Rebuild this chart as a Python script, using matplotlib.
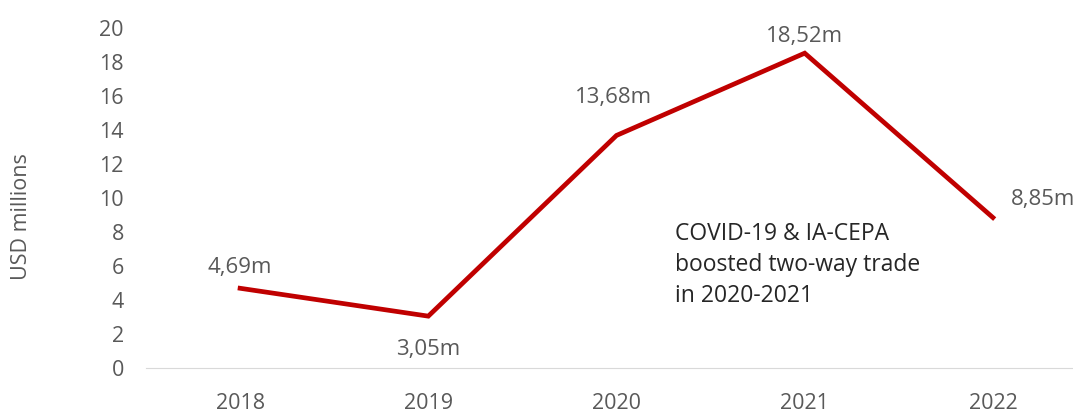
import matplotlib.pyplot as plt

# -------------------- DATA --------------------
years = ["2018", "2019", "2020", "2021", "2022"]
trade = [4.69, 3.05, 13.68, 18.52, 8.85]
labels = ["4,69m", "3,05m", "13,68m", "18,52m", "8,85m"]
yticks = [0, 2, 4, 6, 8, 10, 12, 14, 16, 18, 20]

plt.rcParams['font.family'] = ['Open Sans', 'DejaVu Sans']
grey = "#595959"

# -------------------- FIGURE --------------------
fig = plt.figure(figsize=(10.73, 4.12), dpi=100)
ax = fig.add_axes([146 / 1073, 44 / 412, 941 / 1073, 340 / 412])

x = range(len(years))
ax.plot(x, trade, color="#C00000", linewidth=3.4, solid_joinstyle="miter", clip_on=False)

# value labels (offsets in points)
offsets = [(0, 15), (0, -24), (-2, 27), (0, 12), (36, 13)]
for i, (v, lab) in enumerate(zip(trade, labels)):
    ax.annotate(lab, (i, v), xytext=offsets[i], textcoords="offset points",
                ha="center", va="center", fontsize=16, color=grey)

ax.text(2.31, 6.06, "COVID-19 & IA-CEPA\nboosted two-way trade\nin 2020-2021",
        fontsize=16.5, color="#262626", va="center", ha="left", linespacing=1.4)

ax.set_xlim(-0.5, 4.5)
ax.set_ylim(0, 20)
ax.set_xticks(list(x))
ax.set_xticklabels(years)
ax.set_yticks(yticks)
ax.tick_params(axis="both", length=0, labelsize=15.5, labelcolor=grey)
ax.tick_params(axis="y", pad=16)
ax.tick_params(axis="x", pad=18)
for s in ["top", "right", "left"]:
    ax.spines[s].set_visible(False)
ax.spines["bottom"].set_color("#d9d9d9")

fig.text(22 / 1073, 195 / 412, "USD millions", rotation=90, fontsize=15.5,
         color=grey, ha="center", va="center")

fig.savefig("out.png", dpi=100)
